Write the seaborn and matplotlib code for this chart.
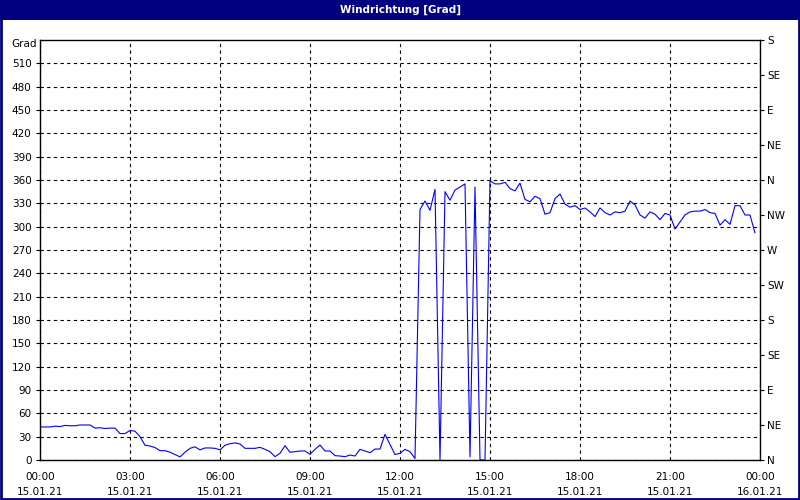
import matplotlib
matplotlib.use("Agg")
import matplotlib.pyplot as plt
import matplotlib.dates as mdates
from matplotlib.patches import Rectangle
import numpy as np
import pandas as pd
import seaborn as sns

# wind direction [deg], 10-minute samples, 15.01.21 00:00 .. 23:50
dir_0000_0610 = [42.5, 42.5, 42.5, 43.5, 43, 44.5, 44, 44, 45, 45,
                 45, 41, 41.5, 40.5, 41, 41, 34, 34, 38, 37,
                 30, 19, 18, 16, 12, 12, 10, 7, 4, 10,
                 15, 17, 13, 15.5, 15.5, 15, 13, 19]
dir_0620_1230 = [21, 22, 20.6, 15, 15, 15, 16.3, 13.7, 10.7, 4.3,
                 8.6, 18.4, 9.9, 10.7, 11.6, 11.6, 7.3, 13.7, 19.3, 11.6,
                 11.6, 5.6, 5.1, 4.3, 6.4, 5.1, 13.7, 11.6, 9.4, 14.1,
                 14.1, 33, 20, 7, 8.6, 13.7, 10.7, 2]
dir_1240_1450 = [322, 333, 321, 348, 0, 345, 334, 347, 351, 355, 4, 351, 0, 0]
dir_1500_1930 = [359, 355, 355, 357, 349, 346, 356, 335, 332, 339,
                 336, 316, 318, 336, 342, 329, 325, 327, 322, 324,
                 319, 313, 324, 318, 315, 319, 318, 320]
dir_1940_2350 = [333, 328, 315, 311, 319, 316, 309, 317, 315, 297,
                 306, 315, 319, 320, 320, 322, 318, 317, 302, 309,
                 303, 327, 327, 315, 315, 292]

direction = dir_0000_0610 + dir_0620_1230 + dir_1240_1450 + dir_1500_1930 + dir_1940_2350
times = pd.date_range("2021-01-15 00:00", periods=len(direction), freq="10min")

left_ticks = list(range(0, 511, 30))
compass_ticks = list(range(0, 541, 45))
compass_labels = ["N", "NE", "E", "SE", "S", "SW", "W", "NW", "N", "NE", "E", "SE", "S"]

df = pd.DataFrame({"time": times, "Grad": direction})

sns.set_style("white")
plt.rcParams["font.family"] = ["DejaVu Sans"]
plt.rcParams["font.size"] = 7.5
plt.rcParams["text.color"] = "black"

navy = "#000080"
fig = plt.figure(figsize=(8, 5), dpi=100)
fig.patch.set_facecolor("white")

ax = fig.add_axes([0.05, 0.08, 0.90, 0.84])
sns.lineplot(data=df, x="time", y="Grad", ax=ax, color="#0000FF", linewidth=0.8)

ax.set_xlim(pd.Timestamp("2021-01-15 00:00"), pd.Timestamp("2021-01-16 00:00"))
ax.set_ylim(0, 540)
ax.set_yticks(left_ticks)
ax.set_yticklabels([str(v) for v in left_ticks])
ax.xaxis.set_major_locator(mdates.HourLocator(byhour=range(0, 24, 3)))
ax.xaxis.set_minor_locator(mdates.HourLocator())
ax.xaxis.set_major_formatter(mdates.DateFormatter("%H:%M\n%d.%m.%y"))
for lab in ax.get_xticklabels():
    lab.set_linespacing(1.55)
ax.set_xlabel("")
ax.set_ylabel("")
ax.tick_params(axis="both", which="both", direction="out", length=3, width=0.8,
               colors="black", labelsize=7.5)
ax.tick_params(axis="x", which="major", pad=6)
ax.tick_params(axis="y", pad=3)
ax.grid(True, which="major", color="black", linestyle=(0, (3, 3)), linewidth=0.8)
for sp in ax.spines.values():
    sp.set_color("black")
    sp.set_linewidth(1.0)
ax.text(-0.004, 535, "Grad", transform=ax.get_yaxis_transform(), ha="right",
        va="center", fontsize=7.5, color="black")

ax2 = ax.twinx()
ax2.set_ylim(0, 540)
ax2.set_yticks(compass_ticks)
ax2.set_yticklabels(compass_labels)
ax2.tick_params(axis="y", direction="out", length=3, width=0.8, labelsize=7.5, pad=2,
                colors="black")
ax2.grid(False)
for sp in ax2.spines.values():
    sp.set_visible(False)

# title bar and window frame
bar = fig.add_axes([0, 0.96, 1, 0.04])
bar.set_facecolor(navy)
bar.set_xticks([])
bar.set_yticks([])
for sp in bar.spines.values():
    sp.set_visible(False)
bar.text(0.5, 0.5, "Windrichtung [Grad]", color="white", fontweight="bold",
         fontsize=7.5, ha="center", va="center")
fig.patches.append(Rectangle((0.001, 0.002), 0.998, 0.996, transform=fig.transFigure,
                             fill=False, edgecolor=navy, linewidth=2))

fig.savefig("out.png", dpi=100)
